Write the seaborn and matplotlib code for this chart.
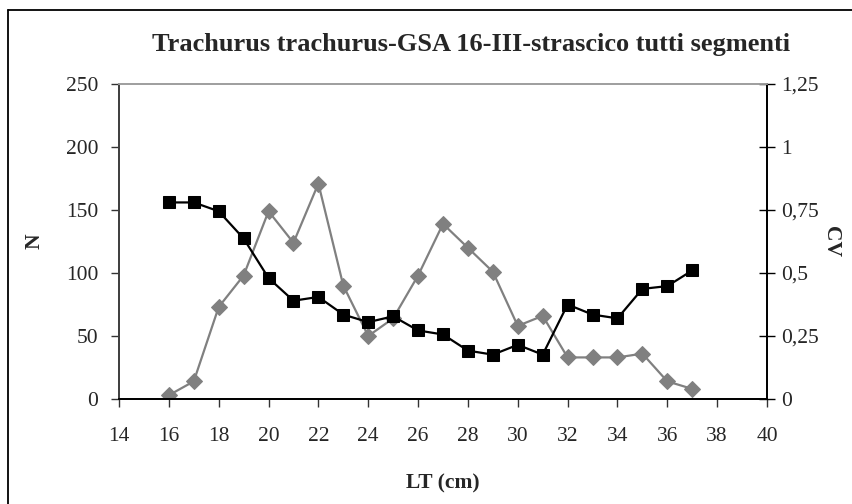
import matplotlib
matplotlib.use("Agg")
import matplotlib.pyplot as plt
from matplotlib.lines import Line2D
from matplotlib.ticker import FuncFormatter
import seaborn as sns
import pandas as pd

# taglia (LT, cm)
lt = [16, 17, 18, 19, 20, 21, 22, 23, 24, 25, 26, 27, 28, 29, 30, 31, 32, 33, 34, 35, 36, 37]
# N (asse sinistro)
n_vals = [3, 14, 73, 98, 149, 124, 171, 90, 50, 64, 98, 139, 120, 101, 58, 66, 33, 33, 33, 36, 14, 8]
# CV (asse destro)
cv_vals = [0.78, 0.78, 0.745, 0.637, 0.48, 0.39, 0.405, 0.335, 0.305, 0.328, 0.272, 0.256,
           0.192, 0.176, 0.215, 0.176, 0.375, 0.335, 0.32, 0.437, 0.448, 0.51]

x_ticks = list(range(14, 41, 2))
n_ticks = [0, 50, 100, 150, 200, 250]
cv_ticks = [0, 0.25, 0.5, 0.75, 1, 1.25]

df = pd.DataFrame({"LT": lt, "N": n_vals, "CV": cv_vals})

sns.set_theme(style="white")
plt.rcParams["font.family"] = ["Liberation Serif", "DejaVu Serif"]

fig = plt.figure(figsize=(8.53, 5.04), dpi=100)
ax = fig.add_axes([119 / 853, 1 - 399 / 504, 648 / 853, 315 / 504])
ax2 = ax.twinx()

sns.lineplot(data=df, x="LT", y="N", ax=ax, color="#808080", linewidth=1.6,
             marker="D", markersize=8, markeredgecolor="#808080")
sns.lineplot(data=df, x="LT", y="CV", ax=ax2, color="black", linewidth=1.6,
             marker="s", markersize=8.5, markeredgecolor="black")

ax.set_xlim(14, 40)
ax.set_ylim(0, 250)
ax2.set_ylim(0, 1.25)
ax.set_xticks(x_ticks)
ax.set_yticks(n_ticks)
ax2.set_yticks(cv_ticks)
ax2.yaxis.set_major_formatter(FuncFormatter(lambda v, p: f"{v:g}".replace(".", ",")))

ax.tick_params(axis="both", labelsize=15.5, direction="out", length=6, width=1,
               color="#333333", left=True, bottom=True, pad=9)
ax.tick_params(axis="x", pad=14)
ax2.tick_params(axis="y", labelsize=15.5, direction="inout", length=12, width=1,
                color="black", right=True, pad=4)

ax.set_xlabel("LT (cm)", fontsize=15.5, fontweight="bold", labelpad=20)
ax.set_ylabel("N", fontsize=15.5, fontweight="bold", labelpad=15)
ax2.set_ylabel("CV", fontsize=15.5, fontweight="bold", rotation=-90, labelpad=16)

for a in (ax, ax2):
    a.spines["top"].set_color("#a0a0a0")
    a.spines["left"].set_color("#404040")
    a.spines["right"].set_color("black")
    a.spines["bottom"].set_color("black")
    for s in a.spines.values():
        s.set_linewidth(1.3)
        s.set_visible(True)
ax2.patch.set_visible(False)

fig.text(471 / 853, 1 - 44 / 504, "Trachurus trachurus-GSA 16-III-strascico tutti segmenti",
         ha="center", va="center", fontsize=19, fontweight="bold")

# cornice esterna (solo lati superiore e sinistro visibili)
fig.add_artist(Line2D([8 / 853, 1], [1 - 10 / 504, 1 - 10 / 504], transform=fig.transFigure,
                      color="black", linewidth=1.3))
fig.add_artist(Line2D([8 / 853, 8 / 853], [0, 1 - 10 / 504], transform=fig.transFigure,
                      color="black", linewidth=1.3))

fig.savefig("out.png", dpi=100)
plt.close(fig)
